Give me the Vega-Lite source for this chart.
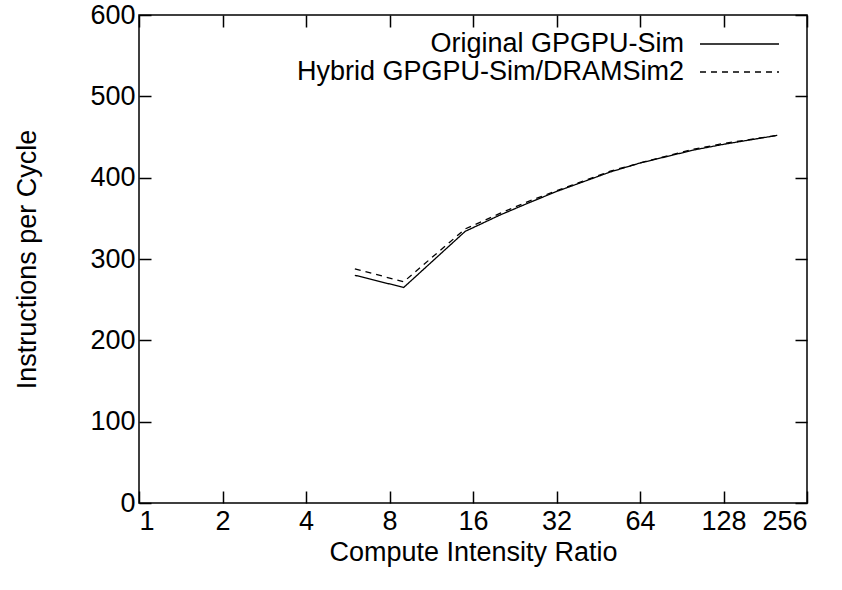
{
  "$schema": "https://vega.github.io/schema/vega-lite/v6.json",
  "width": 668,
  "height": 488,
  "autosize": "none",
  "padding": {"left": 139, "top": 15, "right": 35, "bottom": 87},
  "background": "white",
  "config": {
    "font": "Liberation Sans",
    "view": {"stroke": "#000", "strokeWidth": 1.5},
    "axis": {"grid": false, "domain": false, "tickColor": "#000", "tickSize": -12, "tickWidth": 1.5, "labelColor": "#000", "titleColor": "#000", "labelFontSize": 27, "titleFontSize": 27, "titleFontWeight": "normal", "labelFont": "Liberation Sans", "titleFont": "Liberation Sans"}
  },
  "data": {"values": [
    {"ratio": 6, "ipc": 280, "series": "Original GPGPU-Sim"},
    {"ratio": 9, "ipc": 265, "series": "Original GPGPU-Sim"},
    {"ratio": 15, "ipc": 334, "series": "Original GPGPU-Sim"},
    {"ratio": 20, "ipc": 354, "series": "Original GPGPU-Sim"},
    {"ratio": 25, "ipc": 368, "series": "Original GPGPU-Sim"},
    {"ratio": 32, "ipc": 383, "series": "Original GPGPU-Sim"},
    {"ratio": 50, "ipc": 407, "series": "Original GPGPU-Sim"},
    {"ratio": 64, "ipc": 418, "series": "Original GPGPU-Sim"},
    {"ratio": 100, "ipc": 434, "series": "Original GPGPU-Sim"},
    {"ratio": 128, "ipc": 441, "series": "Original GPGPU-Sim"},
    {"ratio": 200, "ipc": 452, "series": "Original GPGPU-Sim"},
    {"ratio": 6, "ipc": 288, "series": "Hybrid GPGPU-Sim/DRAMSim2"},
    {"ratio": 9, "ipc": 272, "series": "Hybrid GPGPU-Sim/DRAMSim2"},
    {"ratio": 15, "ipc": 337, "series": "Hybrid GPGPU-Sim/DRAMSim2"},
    {"ratio": 20, "ipc": 356, "series": "Hybrid GPGPU-Sim/DRAMSim2"},
    {"ratio": 25, "ipc": 370, "series": "Hybrid GPGPU-Sim/DRAMSim2"},
    {"ratio": 32, "ipc": 384, "series": "Hybrid GPGPU-Sim/DRAMSim2"},
    {"ratio": 50, "ipc": 408, "series": "Hybrid GPGPU-Sim/DRAMSim2"},
    {"ratio": 64, "ipc": 418, "series": "Hybrid GPGPU-Sim/DRAMSim2"},
    {"ratio": 100, "ipc": 435, "series": "Hybrid GPGPU-Sim/DRAMSim2"},
    {"ratio": 128, "ipc": 442, "series": "Hybrid GPGPU-Sim/DRAMSim2"},
    {"ratio": 200, "ipc": 452, "series": "Hybrid GPGPU-Sim/DRAMSim2"}
  ]},
  "layer": [
    {
      "mark": {"type": "line", "color": "#000", "strokeWidth": 1.3},
      "encoding": {
        "x": {"field": "ratio", "type": "quantitative", "scale": {"type": "log", "base": 2, "domain": [1, 256], "nice": false}, "axis": {"values": [1, 2, 4, 8, 16, 32, 64, 128, 256], "format": "d", "labelPadding": 17, "title": "Compute Intensity Ratio", "titlePadding": 5}},
        "y": {"field": "ipc", "type": "quantitative", "scale": {"domain": [0, 600], "nice": false}, "axis": {"values": [0, 100, 200, 300, 400, 500, 600], "labelPadding": 16, "title": "Instructions per Cycle", "titlePadding": 48}},
        "strokeDash": {"field": "series", "type": "nominal", "scale": {"domain": ["Original GPGPU-Sim", "Hybrid GPGPU-Sim/DRAMSim2"], "range": [[1, 0], [6, 5]]}, "legend": {"title": null, "orient": "none", "legendX": 587, "legendY": 15.5, "symbolType": "M-8,0H8", "symbolSize": 97.5, "symbolStrokeWidth": 1.3, "symbolStrokeColor": "#000", "labelFontSize": 27, "labelLimit": 600, "labelColor": "#000", "labelAlign": "right", "labelOffset": -68.9, "rowPadding": 0}}
      }
    },
    {
      "mark": {"type": "line", "opacity": 0},
      "encoding": {
        "x": {"field": "ratio", "type": "quantitative", "axis": {"orient": "top", "values": [1, 2, 4, 8, 16, 32, 64, 128, 256], "labels": false, "title": null}},
        "y": {"field": "ipc", "type": "quantitative", "axis": {"orient": "right", "values": [0, 100, 200, 300, 400, 500, 600], "labels": false, "title": null}},
        "detail": {"field": "series"}
      }
    }
  ],
  "resolve": {"axis": {"x": "independent", "y": "independent"}}
}
